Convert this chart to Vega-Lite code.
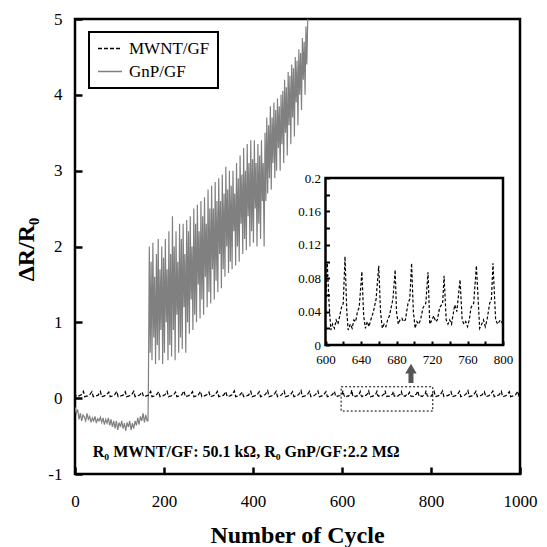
{
"$schema":"https://vega.github.io/schema/vega-lite/v6.json",
"width":445,"height":455,
"autosize":"none",
"padding":{"left":75,"top":19,"right":27,"bottom":73},
"background":"white",
"config":{"view":{"stroke":"black","strokeWidth":2.5},"font":"Liberation Serif",
 "legend":{"strokeWidth":2,"strokeColor":"black"},
 "axis":{"labelFont":"Liberation Serif","titleFont":"Liberation Serif","labelColor":"black","titleColor":"black","grid":false,"domain":false,"tickColor":"black","labelFlush":false}},
"datasets":{
"d":[
{"s":"G","c":0,"v":-0.12},{"s":"G","c":3,"v":-0.2},{"s":"G","c":6,"v":-0.15},{"s":"G","c":9,"v":-0.28},{"s":"G","c":12,"v":-0.2},{"s":"G","c":15,"v":-0.3},{"s":"G","c":18,"v":-0.22},{"s":"G","c":21,"v":-0.25},{"s":"G","c":24,"v":-0.3},{"s":"G","c":27,"v":-0.2},{"s":"G","c":30,"v":-0.28},{"s":"G","c":33,"v":-0.24},{"s":"G","c":36,"v":-0.32},{"s":"G","c":39,"v":-0.26},{"s":"G","c":42,"v":-0.3},{"s":"G","c":45,"v":-0.24},{"s":"G","c":48,"v":-0.33},{"s":"G","c":51,"v":-0.27},{"s":"G","c":54,"v":-0.3},{"s":"G","c":57,"v":-0.25},{"s":"G","c":60,"v":-0.32},{"s":"G","c":63,"v":-0.26},{"s":"G","c":66,"v":-0.35},{"s":"G","c":69,"v":-0.28},{"s":"G","c":72,"v":-0.33},{"s":"G","c":75,"v":-0.26},{"s":"G","c":78,"v":-0.36},{"s":"G","c":81,"v":-0.28},{"s":"G","c":84,"v":-0.38},{"s":"G","c":87,"v":-0.3},{"s":"G","c":90,"v":-0.4},{"s":"G","c":93,"v":-0.3},{"s":"G","c":96,"v":-0.42},{"s":"G","c":99,"v":-0.32},{"s":"G","c":102,"v":-0.38},{"s":"G","c":105,"v":-0.3},{"s":"G","c":108,"v":-0.4},{"s":"G","c":111,"v":-0.33},{"s":"G","c":114,"v":-0.43},{"s":"G","c":117,"v":-0.32},{"s":"G","c":120,"v":-0.38},{"s":"G","c":123,"v":-0.3},{"s":"G","c":126,"v":-0.42},{"s":"G","c":129,"v":-0.33},{"s":"G","c":132,"v":-0.4},{"s":"G","c":135,"v":-0.3},{"s":"G","c":138,"v":-0.36},{"s":"G","c":141,"v":-0.26},{"s":"G","c":144,"v":-0.35},{"s":"G","c":147,"v":-0.24},{"s":"G","c":150,"v":-0.3},{"s":"G","c":153,"v":-0.2},{"s":"G","c":156,"v":-0.32},{"s":"G","c":159,"v":-0.22},{"s":"G","c":162,"v":-0.3},{"s":"G","c":164,"v":-0.3},
{"s":"G","c":165,"v":0.2},{"s":"G","c":167,"v":2.0},{"s":"G","c":169,"v":0.6},{"s":"G","c":171,"v":1.8},{"s":"G","c":173,"v":0.5},{"s":"G","c":175,"v":2.05},{"s":"G","c":177,"v":0.8},{"s":"G","c":179,"v":1.6},{"s":"G","c":181,"v":0.45},{"s":"G","c":183,"v":1.9},{"s":"G","c":185,"v":0.7},{"s":"G","c":187,"v":2.1},{"s":"G","c":189,"v":0.5},{"s":"G","c":191,"v":1.7},{"s":"G","c":193,"v":0.9},{"s":"G","c":195,"v":2.0},{"s":"G","c":197,"v":0.45},{"s":"G","c":199,"v":1.85},{"s":"G","c":201,"v":0.6},{"s":"G","c":203,"v":2.1},{"s":"G","c":205,"v":1.0},{"s":"G","c":207,"v":1.7},{"s":"G","c":209,"v":0.5},{"s":"G","c":211,"v":2.2},{"s":"G","c":213,"v":0.7},{"s":"G","c":215,"v":1.9},{"s":"G","c":217,"v":0.55},{"s":"G","c":219,"v":2.4},{"s":"G","c":221,"v":0.9},{"s":"G","c":223,"v":2.0},{"s":"G","c":225,"v":0.5},{"s":"G","c":227,"v":2.2},{"s":"G","c":229,"v":1.1},{"s":"G","c":231,"v":1.8},{"s":"G","c":233,"v":0.6},{"s":"G","c":235,"v":2.3},{"s":"G","c":237,"v":0.8},{"s":"G","c":239,"v":2.1},{"s":"G","c":241,"v":0.65},{"s":"G","c":243,"v":2.3},{"s":"G","c":245,"v":1.2},{"s":"G","c":247,"v":1.9},{"s":"G","c":249,"v":0.6},{"s":"G","c":251,"v":2.35},{"s":"G","c":253,"v":1.0},{"s":"G","c":255,"v":2.2},{"s":"G","c":257,"v":0.85},{"s":"G","c":259,"v":2.4},{"s":"G","c":261,"v":1.3},{"s":"G","c":263,"v":2.0},{"s":"G","c":265,"v":0.9},{"s":"G","c":267,"v":2.5},{"s":"G","c":269,"v":1.1},{"s":"G","c":271,"v":2.3},{"s":"G","c":273,"v":1.0},{"s":"G","c":275,"v":2.55},{"s":"G","c":277,"v":1.5},{"s":"G","c":279,"v":2.2},{"s":"G","c":281,"v":1.05},{"s":"G","c":283,"v":2.6},{"s":"G","c":285,"v":1.3},{"s":"G","c":287,"v":2.4},{"s":"G","c":289,"v":1.1},{"s":"G","c":291,"v":2.65},{"s":"G","c":293,"v":1.6},{"s":"G","c":295,"v":2.3},{"s":"G","c":297,"v":1.2},{"s":"G","c":299,"v":2.75},{"s":"G","c":301,"v":1.4},{"s":"G","c":303,"v":2.5},{"s":"G","c":305,"v":1.25},{"s":"G","c":307,"v":2.8},{"s":"G","c":309,"v":1.7},{"s":"G","c":311,"v":2.5},{"s":"G","c":313,"v":1.3},{"s":"G","c":315,"v":2.85},{"s":"G","c":317,"v":1.55},{"s":"G","c":319,"v":2.6},{"s":"G","c":321,"v":1.4},{"s":"G","c":323,"v":2.9},{"s":"G","c":325,"v":1.9},{"s":"G","c":327,"v":2.6},{"s":"G","c":329,"v":1.45},{"s":"G","c":331,"v":2.95},{"s":"G","c":333,"v":1.7},{"s":"G","c":335,"v":2.7},{"s":"G","c":337,"v":1.6},{"s":"G","c":339,"v":3.05},{"s":"G","c":341,"v":2.0},{"s":"G","c":343,"v":2.75},{"s":"G","c":345,"v":1.65},{"s":"G","c":347,"v":3.0},{"s":"G","c":349,"v":1.8},{"s":"G","c":351,"v":2.8},{"s":"G","c":353,"v":1.7},{"s":"G","c":355,"v":3.0},{"s":"G","c":357,"v":2.2},{"s":"G","c":359,"v":2.7},{"s":"G","c":361,"v":1.75},{"s":"G","c":363,"v":3.1},{"s":"G","c":365,"v":2.0},{"s":"G","c":367,"v":2.9},{"s":"G","c":369,"v":1.8},{"s":"G","c":371,"v":3.2},{"s":"G","c":373,"v":2.3},{"s":"G","c":375,"v":2.95},{"s":"G","c":377,"v":1.9},{"s":"G","c":379,"v":3.3},{"s":"G","c":381,"v":2.1},{"s":"G","c":383,"v":3.0},{"s":"G","c":385,"v":1.95},{"s":"G","c":387,"v":3.35},{"s":"G","c":389,"v":2.4},{"s":"G","c":391,"v":3.1},{"s":"G","c":393,"v":2.0},{"s":"G","c":395,"v":3.4},{"s":"G","c":397,"v":2.2},{"s":"G","c":399,"v":3.15},{"s":"G","c":401,"v":2.05},{"s":"G","c":403,"v":3.4},{"s":"G","c":405,"v":2.5},{"s":"G","c":407,"v":3.1},{"s":"G","c":409,"v":2.0},{"s":"G","c":411,"v":3.35},{"s":"G","c":413,"v":2.3},{"s":"G","c":415,"v":3.2},{"s":"G","c":417,"v":2.1},{"s":"G","c":419,"v":3.4},{"s":"G","c":421,"v":2.6},{"s":"G","c":423,"v":3.1},{"s":"G","c":425,"v":2.0},{"s":"G","c":427,"v":3.5},{"s":"G","c":429,"v":2.6},{"s":"G","c":431,"v":3.7},{"s":"G","c":433,"v":2.7},{"s":"G","c":435,"v":3.6},{"s":"G","c":437,"v":2.9},{"s":"G","c":439,"v":3.85},{"s":"G","c":441,"v":2.75},{"s":"G","c":443,"v":3.7},{"s":"G","c":445,"v":3.1},{"s":"G","c":447,"v":3.9},{"s":"G","c":449,"v":2.9},{"s":"G","c":451,"v":3.8},{"s":"G","c":453,"v":3.0},{"s":"G","c":455,"v":3.95},{"s":"G","c":457,"v":3.3},{"s":"G","c":459,"v":3.85},{"s":"G","c":461,"v":3.0},{"s":"G","c":463,"v":4.0},{"s":"G","c":465,"v":3.35},{"s":"G","c":467,"v":4.05},{"s":"G","c":469,"v":3.1},{"s":"G","c":471,"v":4.2},{"s":"G","c":473,"v":3.5},{"s":"G","c":475,"v":4.1},{"s":"G","c":477,"v":3.2},{"s":"G","c":479,"v":4.3},{"s":"G","c":481,"v":3.6},{"s":"G","c":483,"v":4.25},{"s":"G","c":485,"v":3.35},{"s":"G","c":487,"v":4.4},{"s":"G","c":489,"v":3.7},{"s":"G","c":491,"v":4.35},{"s":"G","c":493,"v":3.45},{"s":"G","c":495,"v":4.5},{"s":"G","c":497,"v":3.9},{"s":"G","c":499,"v":4.45},{"s":"G","c":501,"v":3.6},{"s":"G","c":503,"v":4.6},{"s":"G","c":505,"v":4.0},{"s":"G","c":507,"v":4.55},{"s":"G","c":509,"v":3.8},{"s":"G","c":511,"v":4.75},{"s":"G","c":513,"v":4.2},{"s":"G","c":515,"v":4.7},{"s":"G","c":517,"v":4.0},{"s":"G","c":519,"v":4.9},{"s":"G","c":521,"v":4.4},{"s":"G","c":523,"v":5.0},
{"s":"M","c":0,"v":0.07},{"s":"M","c":3,"v":0.02},{"s":"M","c":9,"v":0.03},
{"s":"M","c":14,"v":0.045},{"s":"M","c":19,"v":0.09},{"s":"M","c":22,"v":0.02},{"s":"M","c":28,"v":0.03},
{"s":"M","c":33,"v":0.045},{"s":"M","c":38,"v":0.085},{"s":"M","c":41,"v":0.02},{"s":"M","c":47,"v":0.03},
{"s":"M","c":52,"v":0.04},{"s":"M","c":57,"v":0.09},{"s":"M","c":60,"v":0.02},{"s":"M","c":66,"v":0.03},
{"s":"M","c":71,"v":0.045},{"s":"M","c":76,"v":0.08},{"s":"M","c":79,"v":0.02},{"s":"M","c":85,"v":0.03},
{"s":"M","c":89,"v":0.045},{"s":"M","c":94,"v":0.09},{"s":"M","c":97,"v":0.02},{"s":"M","c":103,"v":0.03},
{"s":"M","c":108,"v":0.04},{"s":"M","c":113,"v":0.085},{"s":"M","c":116,"v":0.02},{"s":"M","c":122,"v":0.03},
{"s":"M","c":127,"v":0.045},{"s":"M","c":132,"v":0.09},{"s":"M","c":135,"v":0.02},{"s":"M","c":141,"v":0.03},
{"s":"M","c":146,"v":0.045},{"s":"M","c":151,"v":0.08},{"s":"M","c":154,"v":0.02},{"s":"M","c":160,"v":0.03},
{"s":"M","c":165,"v":0.04},{"s":"M","c":170,"v":0.09},{"s":"M","c":173,"v":0.02},{"s":"M","c":179,"v":0.03},
{"s":"M","c":183,"v":0.045},{"s":"M","c":188,"v":0.085},{"s":"M","c":191,"v":0.02},{"s":"M","c":197,"v":0.03},
{"s":"M","c":202,"v":0.045},{"s":"M","c":207,"v":0.09},{"s":"M","c":210,"v":0.02},{"s":"M","c":216,"v":0.03},
{"s":"M","c":221,"v":0.04},{"s":"M","c":226,"v":0.08},{"s":"M","c":229,"v":0.02},{"s":"M","c":235,"v":0.03},
{"s":"M","c":240,"v":0.045},{"s":"M","c":245,"v":0.095},{"s":"M","c":248,"v":0.02},{"s":"M","c":254,"v":0.03},
{"s":"M","c":259,"v":0.045},{"s":"M","c":264,"v":0.085},{"s":"M","c":267,"v":0.02},{"s":"M","c":273,"v":0.03},
{"s":"M","c":277,"v":0.04},{"s":"M","c":282,"v":0.09},{"s":"M","c":285,"v":0.02},{"s":"M","c":291,"v":0.03},
{"s":"M","c":296,"v":0.045},{"s":"M","c":301,"v":0.08},{"s":"M","c":304,"v":0.02},{"s":"M","c":310,"v":0.03},
{"s":"M","c":315,"v":0.045},{"s":"M","c":320,"v":0.09},{"s":"M","c":323,"v":0.02},{"s":"M","c":329,"v":0.03},
{"s":"M","c":334,"v":0.04},{"s":"M","c":339,"v":0.085},{"s":"M","c":342,"v":0.02},{"s":"M","c":348,"v":0.03},
{"s":"M","c":353,"v":0.045},{"s":"M","c":358,"v":0.095},{"s":"M","c":361,"v":0.02},{"s":"M","c":367,"v":0.03},
{"s":"M","c":371,"v":0.045},{"s":"M","c":376,"v":0.08},{"s":"M","c":379,"v":0.02},{"s":"M","c":385,"v":0.03},
{"s":"M","c":390,"v":0.04},{"s":"M","c":395,"v":0.09},{"s":"M","c":398,"v":0.02},{"s":"M","c":404,"v":0.03},
{"s":"M","c":409,"v":0.045},{"s":"M","c":414,"v":0.085},{"s":"M","c":417,"v":0.02},{"s":"M","c":423,"v":0.03},
{"s":"M","c":428,"v":0.05},{"s":"M","c":433,"v":0.1},{"s":"M","c":436,"v":0.02},{"s":"M","c":442,"v":0.03},
{"s":"M","c":447,"v":0.045},{"s":"M","c":452,"v":0.09},{"s":"M","c":455,"v":0.02},{"s":"M","c":461,"v":0.03},
{"s":"M","c":465,"v":0.05},{"s":"M","c":470,"v":0.095},{"s":"M","c":473,"v":0.02},{"s":"M","c":479,"v":0.03},
{"s":"M","c":484,"v":0.045},{"s":"M","c":489,"v":0.085},{"s":"M","c":492,"v":0.02},{"s":"M","c":498,"v":0.03},
{"s":"M","c":503,"v":0.05},{"s":"M","c":508,"v":0.1},{"s":"M","c":511,"v":0.02},{"s":"M","c":517,"v":0.03},
{"s":"M","c":522,"v":0.045},{"s":"M","c":527,"v":0.09},{"s":"M","c":530,"v":0.02},{"s":"M","c":536,"v":0.03},
{"s":"M","c":541,"v":0.05},{"s":"M","c":546,"v":0.095},{"s":"M","c":549,"v":0.02},{"s":"M","c":555,"v":0.03},
{"s":"M","c":559,"v":0.045},{"s":"M","c":564,"v":0.085},{"s":"M","c":567,"v":0.02},{"s":"M","c":573,"v":0.03},
{"s":"M","c":578,"v":0.045},{"s":"M","c":583,"v":0.09},{"s":"M","c":586,"v":0.02},{"s":"M","c":592,"v":0.03},{"s":"M","c":596,"v":0.035},
{"s":"M","c":600,"v":0.045},{"s":"M","c":602,"v":0.098},{"s":"M","c":604,"v":0.05},{"s":"M","c":606,"v":0.018},{"s":"M","c":608,"v":0.025},{"s":"M","c":610,"v":0.02},{"s":"M","c":612,"v":0.03},{"s":"M","c":614,"v":0.025},{"s":"M","c":616,"v":0.035},{"s":"M","c":618,"v":0.045},{"s":"M","c":620,"v":0.05},{"s":"M","c":622,"v":0.106},{"s":"M","c":624,"v":0.04},{"s":"M","c":625.5,"v":0.018},{"s":"M","c":628,"v":0.025},{"s":"M","c":630,"v":0.02},{"s":"M","c":632,"v":0.03},{"s":"M","c":634,"v":0.028},{"s":"M","c":636,"v":0.04},{"s":"M","c":638,"v":0.045},{"s":"M","c":641,"v":0.088},{"s":"M","c":643,"v":0.035},{"s":"M","c":645,"v":0.02},{"s":"M","c":647,"v":0.028},{"s":"M","c":649,"v":0.022},{"s":"M","c":651,"v":0.03},{"s":"M","c":654,"v":0.04},{"s":"M","c":657,"v":0.055},{"s":"M","c":660,"v":0.095},{"s":"M","c":662,"v":0.04},{"s":"M","c":664,"v":0.02},{"s":"M","c":666,"v":0.025},{"s":"M","c":668,"v":0.022},{"s":"M","c":670,"v":0.03},{"s":"M","c":672,"v":0.035},{"s":"M","c":674,"v":0.045},{"s":"M","c":676,"v":0.055},{"s":"M","c":678.5,"v":0.09},{"s":"M","c":680,"v":0.04},{"s":"M","c":682,"v":0.025},{"s":"M","c":684,"v":0.03},{"s":"M","c":686,"v":0.032},{"s":"M","c":688,"v":0.028},{"s":"M","c":690,"v":0.03},{"s":"M","c":693,"v":0.05},{"s":"M","c":695,"v":0.055},{"s":"M","c":697,"v":0.098},{"s":"M","c":699,"v":0.04},{"s":"M","c":701,"v":0.02},{"s":"M","c":703,"v":0.028},{"s":"M","c":705,"v":0.025},{"s":"M","c":707,"v":0.03},{"s":"M","c":710,"v":0.045},{"s":"M","c":713,"v":0.05},{"s":"M","c":715.5,"v":0.087},{"s":"M","c":717.5,"v":0.025},{"s":"M","c":720,"v":0.03},{"s":"M","c":722,"v":0.035},{"s":"M","c":724,"v":0.028},{"s":"M","c":726,"v":0.03},{"s":"M","c":728.7,"v":0.045},{"s":"M","c":732,"v":0.05},{"s":"M","c":733.6,"v":0.083},{"s":"M","c":736,"v":0.03},{"s":"M","c":738,"v":0.025},{"s":"M","c":740,"v":0.03},{"s":"M","c":742,"v":0.025},{"s":"M","c":745.6,"v":0.048},{"s":"M","c":748,"v":0.04},{"s":"M","c":751.6,"v":0.078},{"s":"M","c":754,"v":0.03},{"s":"M","c":756,"v":0.025},{"s":"M","c":758,"v":0.028},{"s":"M","c":760,"v":0.022},{"s":"M","c":762,"v":0.03},{"s":"M","c":764,"v":0.045},{"s":"M","c":767,"v":0.05},{"s":"M","c":770,"v":0.095},{"s":"M","c":773.7,"v":0.02},{"s":"M","c":776,"v":0.025},{"s":"M","c":778,"v":0.03},{"s":"M","c":780,"v":0.022},{"s":"M","c":782,"v":0.03},{"s":"M","c":785,"v":0.05},{"s":"M","c":787,"v":0.055},{"s":"M","c":788.7,"v":0.098},{"s":"M","c":791.7,"v":0.03},{"s":"M","c":794,"v":0.025},{"s":"M","c":797,"v":0.03},{"s":"M","c":800,"v":0.025},
{"s":"M","c":803,"v":0.045},{"s":"M","c":807,"v":0.09},{"s":"M","c":810,"v":0.02},{"s":"M","c":816,"v":0.03},
{"s":"M","c":821,"v":0.045},{"s":"M","c":826,"v":0.095},{"s":"M","c":829,"v":0.02},{"s":"M","c":835,"v":0.03},
{"s":"M","c":840,"v":0.04},{"s":"M","c":845,"v":0.085},{"s":"M","c":848,"v":0.02},{"s":"M","c":854,"v":0.03},
{"s":"M","c":859,"v":0.045},{"s":"M","c":864,"v":0.09},{"s":"M","c":867,"v":0.02},{"s":"M","c":873,"v":0.03},
{"s":"M","c":878,"v":0.05},{"s":"M","c":883,"v":0.1},{"s":"M","c":886,"v":0.02},{"s":"M","c":892,"v":0.03},
{"s":"M","c":896,"v":0.045},{"s":"M","c":901,"v":0.09},{"s":"M","c":904,"v":0.02},{"s":"M","c":910,"v":0.03},
{"s":"M","c":915,"v":0.045},{"s":"M","c":920,"v":0.085},{"s":"M","c":923,"v":0.02},{"s":"M","c":929,"v":0.03},
{"s":"M","c":934,"v":0.05},{"s":"M","c":939,"v":0.095},{"s":"M","c":942,"v":0.02},{"s":"M","c":948,"v":0.03},
{"s":"M","c":953,"v":0.045},{"s":"M","c":958,"v":0.09},{"s":"M","c":961,"v":0.02},{"s":"M","c":967,"v":0.03},
{"s":"M","c":971,"v":0.045},{"s":"M","c":976,"v":0.085},{"s":"M","c":979,"v":0.02},{"s":"M","c":985,"v":0.03},
{"s":"M","c":990,"v":0.045},{"s":"M","c":995,"v":0.09},{"s":"M","c":998,"v":0.02},{"s":"M","c":1000,"v":0.025}
]},
"layer":[
{"layer":[
 {"data":{"name":"d"},"mark":{"type":"line","strokeWidth":1.2,"clip":true},
  "encoding":{
   "x":{"field":"c","type":"quantitative","scale":{"domain":[0,1000],"nice":false,"zero":false},
     "axis":{"orient":"bottom","values":[0,200,400,600,800,1000],"labelExpr":"'' + datum.value","labelFlush":false,"labelFont":"Liberation Serif","titleFont":"Liberation Serif","tickSize":-7,"tickWidth":2.5,"labelFontSize":17,"labelPadding":26,"labelBaseline":"top","title":"Number of Cycle","titleFontSize":24,"titleFontWeight":"bold","titleX":222,"titleY":68,"titleBaseline":"alphabetic"}},
   "y":{"field":"v","type":"quantitative","scale":{"domain":[-1,5],"nice":false,"zero":false},
     "axis":{"orient":"left","values":[-1,0,1,2,3,4,5],"labelExpr":"'' + datum.value","labelFlush":false,"labelFont":"Liberation Serif","titleFont":"Liberation Serif","tickSize":-7,"tickWidth":2.5,"labelFontSize":17,"labelPadding":20,"title":"ΔR/R₀","titleFontSize":24,"titleFontWeight":"bold","titleX":-42,"titleY":230,"titleBaseline":"alphabetic","titleAngle":-90}},
   "color":{"field":"s","type":"nominal","scale":{"domain":["G","M"],"range":["#808080","black"]},
     "legend":{"orient":"none","legendX":14,"legendY":13,"title":null,"values":["M","G"],"strokeColor":"black","padding":8,"symbolType":"stroke","symbolSize":576,"symbolStrokeWidth":1.3,"clipHeight":17,"rowPadding":5,"labelOffset":6,"labelFont":"Liberation Serif","labelFontSize":17,"labelColor":"black","labelExpr":"datum.label=='M'?'MWNT/GF':'GnP/GF'"}},
   "strokeDash":{"field":"s","type":"nominal","scale":{"domain":["G","M"]},
     "legend":{"orient":"none","legendX":14,"legendY":13,"title":null,"values":["M","G"],"strokeColor":"black","padding":8,"symbolType":"stroke","symbolSize":576,"symbolStrokeWidth":1.3,"clipHeight":17,"rowPadding":5,"labelOffset":6,"labelFont":"Liberation Serif","labelFontSize":17,"labelColor":"black","labelExpr":"datum.label=='M'?'MWNT/GF':'GnP/GF'"}}
  }},
 {"data":{"values":[{}]},"mark":{"type":"rect","fillOpacity":0,"stroke":"black","strokeWidth":1,"strokeDash":[2,2]},
  "encoding":{"x":{"datum":598},"x2":{"datum":804},"y":{"datum":0.15},"y2":{"datum":-0.17}}},
 {"data":{"values":[{}]},"mark":{"type":"rule","stroke":"#555555","strokeWidth":5},
  "encoding":{"x":{"datum":755},"y":{"datum":0.2},"y2":{"datum":0.35}}},
 {"data":{"values":[{}]},"mark":{"type":"point","shape":"triangle-up","filled":true,"color":"#555555","size":130,"opacity":1},
  "encoding":{"x":{"datum":755},"y":{"datum":0.39}}},
 {"data":{"values":[{}]},"mark":{"type":"text","align":"left","baseline":"alphabetic","fontSize":16,"fontWeight":"bold","font":"Liberation Serif","color":"black"},
  "encoding":{"x":{"datum":40},"y":{"datum":-0.78},"text":{"value":"R₀ MWNT/GF: 50.1 kΩ, R₀ GnP/GF:2.2 MΩ"}}}
]},
{"layer":[
 {"data":{"values":[{}]},"mark":{"type":"rect","fillOpacity":0,"stroke":"black","strokeWidth":2.5},
  "encoding":{"x":{"datum":600},"x2":{"datum":800},"y":{"datum":0},"y2":{"datum":0.2}}},
 {"data":{"name":"d"},"transform":[{"filter":"datum.s=='M' && datum.c>=600 && datum.c<=800"}],
  "mark":{"type":"line","color":"black","strokeWidth":1.2,"strokeDash":[3,2]},
  "encoding":{
   "x":{"field":"c","type":"quantitative","scale":{"domain":[600,800],"range":[250.5,428],"nice":false,"zero":false},
     "axis":{"orient":"bottom","offset":-129,"values":[600,620,640,660,680,700,720,740,760,780,800],"labelExpr":"datum.value % 40 == 0 ? datum.label : ''","labelFlush":false,"labelFont":"Liberation Serif","tickSize":-4,"tickWidth":2,"labelFontSize":13,"labelPadding":12,"labelBaseline":"top","title":null}},
   "y":{"field":"v","type":"quantitative","scale":{"domain":[0,0.2],"range":[326,159],"nice":false,"zero":false},
     "axis":{"orient":"left","offset":-250.5,"values":[0,0.02,0.04,0.06,0.08,0.1,0.12,0.14,0.16,0.18,0.2],"format":".2~f","labelExpr":"round(datum.value*100) % 4 == 0 ? datum.label : ''","labelFlush":false,"labelFont":"Liberation Serif","tickSize":-4,"tickWidth":2,"labelFontSize":13,"labelPadding":9,"title":null}}
  }}
]}
],
"resolve":{"scale":{"x":"independent","y":"independent"},"axis":{"x":"independent","y":"independent"}}
}
